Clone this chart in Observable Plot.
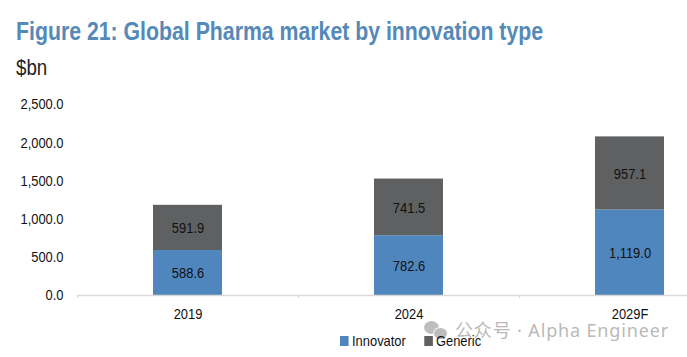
<!DOCTYPE html>
<html><head><meta charset="utf-8">
<script src="https://cdn.jsdelivr.net/npm/d3@7"></script>
<script src="https://cdn.jsdelivr.net/npm/@observablehq/plot@0.6"></script>
<style>
html,body{margin:0;padding:0;background:#fff;width:687px;height:357px;overflow:hidden;font-family:"Liberation Sans",Arial,sans-serif;position:relative}
#title{position:absolute;left:16px;top:16px;font:bold 26px "Liberation Sans",sans-serif;color:#5589b8;white-space:nowrap;transform-origin:0 0;transform:scaleX(.818);line-height:30px}
#unit{position:absolute;left:16px;top:55px;font:22px "Liberation Sans",sans-serif;color:#222;line-height:26px;transform-origin:0 0;transform:scaleX(.85)}
#chart{position:absolute;left:0;top:85px}
#legend{position:absolute;left:340px;top:333px;font:15px "Liberation Sans",sans-serif;color:#111;line-height:16px;white-space:nowrap;transform-origin:0 0;transform:scaleX(.86)}
#legend i{display:inline-block;width:10px;height:10px;margin-right:4px}
#wm{position:absolute;left:455px;top:319px;font:18px "Noto Sans","Noto Sans CJK SC",sans-serif;letter-spacing:.85px;color:#b9b9b9;white-space:nowrap;line-height:22px}
#wmi{position:absolute;left:424px;top:320px;width:24px;height:22px}
#wmi b{position:absolute;border-radius:50%;background:#bdbdbd}
</style></head><body>
<div id="title">Figure 21: Global Pharma market by innovation type</div>
<div id="unit">$bn</div>
<div id="chart"></div>
<div id="wmi"><b style="left:0;top:1px;width:15px;height:13px"></b><b style="left:9px;top:7px;width:15px;height:13px;border:1px solid #fff;box-sizing:border-box"></b></div>
<div id="wm">公众号 · Alpha Engineer</div>
<div id="legend"><span><i style="background:#4f86bd"></i>Innovator</span><span style="margin-left:21px"><i style="background:#5f6062"></i>Generic</span></div>
<script>
const years = ["2019","2024","2029F"];
const innovator = [588.6,782.6,1119.0];
const generic = [591.9,741.5,957.1];
const yTicks = [0,500,1000,1500,2000,2500];
const seriesNames = ["Innovator","Generic"];
const seriesColors = ["#4f86bd","#5f6062"];
const rows = years.flatMap((y,i)=>[
  {year:y,series:seriesNames[0],value:innovator[i]},
  {year:y,series:seriesNames[1],value:generic[i]}
]);
const fmt = d3.format(",.1f");
const plot = Plot.plot({
  width:687,height:240,
  marginTop:19,marginBottom:30,marginLeft:77,marginRight:0,
  style:{fontFamily:'"Liberation Sans",sans-serif',fontSize:"15px",color:"#111",background:"transparent"},
  x:{domain:years,range:[77,740],paddingInner:0.688,paddingOuter:0.344,align:0.5,label:null},
  y:{domain:[0,2500],label:null},
  color:{domain:seriesNames,range:seriesColors},
  marks:[
    Plot.barY(rows,Plot.stackY({x:"year",y:"value",z:"series",fill:"series",order:seriesNames})),
    Plot.text(rows,Plot.stackY({x:"year",y:"value",z:"series",order:seriesNames,text:d=>fmt(d.value),fill:"#111",fontSize:15,dy:0.5})),
    Plot.ruleX(years,{x:d=>d,dx:-110.5,y1:0,y2:-40,stroke:"#d9d9d9",strokeWidth:1}),
    Plot.ruleY([0],{stroke:"#d9d9d9",strokeWidth:1.5}),
    Plot.axisY({ticks:yTicks,tickFormat:fmt,tickSize:0,tickPadding:14,label:null,fontSize:15}),
    Plot.axisX({tickSize:0,tickPadding:13,label:null,fontSize:15})
  ]
});
document.getElementById("chart").appendChild(plot);
// narrow glyphs: the reference uses a condensed Arial
plot.querySelectorAll("text").forEach(t=>{
  const len=t.getComputedTextLength();
  if(len>0){t.setAttribute("textLength",len*0.86);t.setAttribute("lengthAdjust","spacingAndGlyphs");}
});
</script></body></html>
